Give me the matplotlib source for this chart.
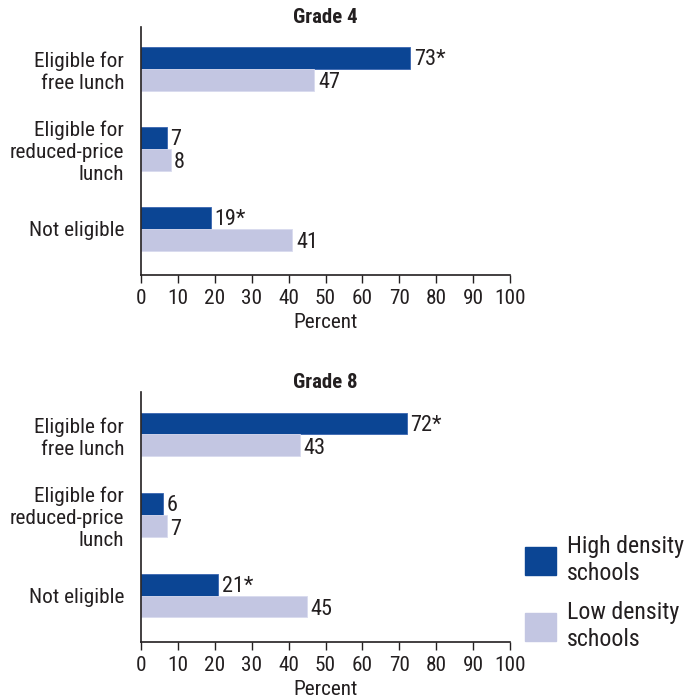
import matplotlib
matplotlib.use("Agg")
import matplotlib.pyplot as plt
from matplotlib.patches import Patch

plt.rcParams['font.family'] = ['Roboto Condensed', 'Liberation Sans Narrow', 'Arial Narrow', 'Liberation Sans', 'DejaVu Sans']

categories = ["Eligible for\nfree lunch", "Eligible for\nreduced-price\nlunch", "Not eligible"]
grade4_high = [73, 7, 19]
grade4_low = [47, 8, 41]
grade4_high_labels = ["73*", "7", "19*"]
grade4_low_labels = ["47", "8", "41"]
grade8_high = [72, 6, 21]
grade8_low = [43, 7, 45]
grade8_high_labels = ["72*", "6", "21*"]
grade8_low_labels = ["43", "7", "45"]
series_names = ["High density\nschools", "Low density\nschools"]
xticks = list(range(0, 101, 10))

dark = "#0B4594"
light = "#C3C6E2"
textc = "#231F20"
fs = 15.3

fig = plt.figure(figsize=(6.96, 7.0), dpi=100)
ax1 = fig.add_axes([141/696, 1-275/700, (510-141)/696, (275-27)/700])
ax2 = fig.add_axes([141/696, 1-642/700, (510-141)/696, (642-392)/700])

def draw(ax, title, high, low, hl, ll):
    h = 0.27
    ys = list(range(len(categories)))
    ax.barh([y - h/2 for y in ys], high, height=h, color=dark, edgecolor="#3A66B0", linewidth=0.6)
    ax.barh([y + h/2 for y in ys], low, height=h, color=light, edgecolor="#D8DAEE", linewidth=0.6)
    for y, v, t in zip(ys, high, hl):
        ax.text(v + 1.0, y - h/2 + 0.02, t, va="center", ha="left", fontsize=fs + 0.7, color=textc)
    for y, v, t in zip(ys, low, ll):
        ax.text(v + 1.0, y + h/2 + 0.04, t, va="center", ha="left", fontsize=fs + 0.7, color=textc)
    ax.set_ylim(2.575, -0.525)
    ax.set_xlim(0, 100)
    ax.set_xticks(xticks)
    ax.set_yticks(ys)
    ax.set_yticklabels(categories, fontsize=fs, color=textc, linespacing=1.2)
    ax.tick_params(axis="y", length=0, pad=12)
    ax.tick_params(axis="x", direction="out", length=6, width=1, labelsize=fs, colors=textc, pad=4)
    for s in ["top", "right"]:
        ax.spines[s].set_visible(False)
    for s in ["left", "bottom"]:
        ax.spines[s].set_linewidth(1.2)
        ax.spines[s].set_color(textc)
    ax.set_xlabel("Percent", fontsize=fs, color=textc, labelpad=4)
    ax.set_title(title, fontsize=15, fontweight="bold", color=textc, pad=3)

draw(ax1, "Grade 4", grade4_high, grade4_low, grade4_high_labels, grade4_low_labels)
draw(ax2, "Grade 8", grade8_high, grade8_low, grade8_high_labels, grade8_low_labels)

handles = [Patch(facecolor=dark, edgecolor=dark), Patch(facecolor=light, edgecolor=light)]
fig.legend(handles, series_names, loc="center left", bbox_to_anchor=(525/696, 1-593/700),
           frameon=False, fontsize=17.2, handlelength=1.3, handleheight=1.45,
           labelspacing=0.7, handletextpad=0.45, borderpad=0, borderaxespad=0,
           labelcolor=textc)

fig.savefig("out.png", dpi=100)
